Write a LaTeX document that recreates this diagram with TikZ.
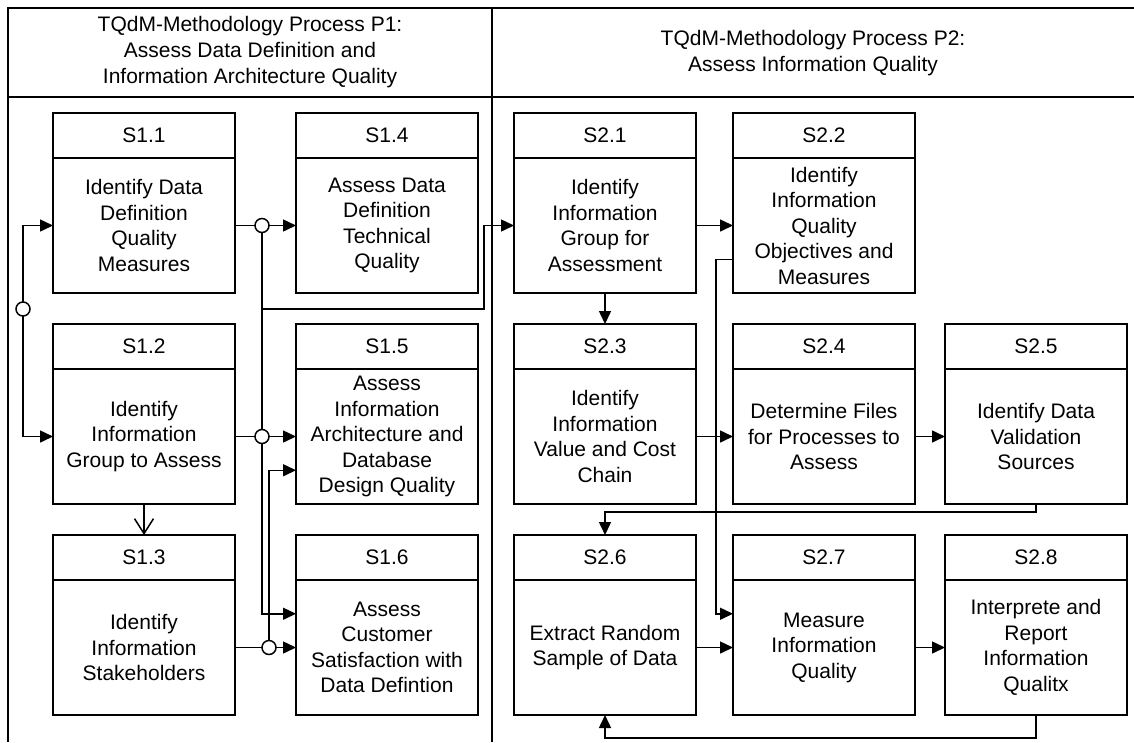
\documentclass[tikz,border=0pt]{standalone}
\usepackage{fontspec}
\setmainfont{Liberation Sans}
\usetikzlibrary{arrows.meta,calc}

\tikzset{
  frame/.style={line width=1.6pt},
  stephead/.style={draw, line width=1.5pt, rectangle, minimum width=182pt,
    minimum height=45pt, inner sep=0pt, outer sep=0pt,
    font=\fontsize{21}{25.5}\selectfont},
  stepbody/.style={draw, line width=1.5pt, rectangle, minimum width=182pt,
    minimum height=135pt, inner sep=0pt, outer sep=0pt, align=center,
    font=\fontsize{21}{25.5}\selectfont},
  title/.style={align=center, font=\fontsize{21}{26}\selectfont},
  junction/.style={draw, circle, fill=white, line width=1.5pt,
    minimum size=14pt, inner sep=0pt, outer sep=0pt},
  flow/.style={line width=1.5pt},
  arr/.style={flow, -{Triangle[length=13pt,width=12pt]}},
  openarr/.style={flow, -{Straight Barb[length=15pt,width=19pt,line width=1.5pt]}},
}

% one process step: header with its number, body with its description
\newcommand\procstep[5]{%
  \node[stephead, anchor=north west] (#1-h) at (#2,#3) {#4};
  \node[stepbody, anchor=north west] (#1-b) at (#1-h.south west) {#5};
}

\begin{document}
\begin{tikzpicture}[x=1pt, y=-1pt]
  \fill[white] (0,0) rectangle (1134,742);
  \useasboundingbox (0,0) rectangle (1134,742);

  % frame of the two process lanes
  \draw[frame] (8,742) -- (8,8) -- (1134,8);
  \draw[frame] (8,97) -- (1134,97);
  \draw[frame] (492,8) -- (492,742);

  \node[title] (p1) at (250,52.5)
    {TQdM-Methodology Process P1:\\Assess Data Definition and\\Information Architecture Quality};
  \node[title] (p2) at (813,53.5)
    {TQdM-Methodology Process P2:\\Assess Information Quality};

  % process P1
  \procstep{s11}{53}{113}{S1.1}{Identify Data\\Definition\\Quality\\Measures}
  \procstep{s12}{53}{324}{S1.2}{Identify\\Information\\Group to Assess}
  \procstep{s13}{53}{535}{S1.3}{Identify\\Information\\Stakeholders}
  \procstep{s14}{296}{113}{S1.4}{Assess Data\\Definition\\Technical\\Quality}
  \procstep{s15}{296}{324}{S1.5}{Assess\\Information\\Architecture and\\Database\\Design Quality}
  \procstep{s16}{296}{535}{S1.6}{Assess\\Customer\\Satisfaction with\\Data Defintion}

  % process P2
  \procstep{s21}{514}{113}{S2.1}{Identify\\Information\\Group for\\Assessment}
  \procstep{s22}{733}{113}{S2.2}{Identify\\Information\\Quality\\Objectives and\\Measures}
  \procstep{s23}{514}{324}{S2.3}{Identify\\Information\\Value and Cost\\Chain}
  \procstep{s24}{733}{324}{S2.4}{Determine Files\\for Processes to\\Assess}
  \procstep{s25}{945}{324}{S2.5}{Identify Data\\Validation\\Sources}
  \procstep{s26}{514}{535}{S2.6}{Extract Random\\Sample of Data}
  \procstep{s27}{733}{535}{S2.7}{Measure\\Information\\Quality}
  \procstep{s28}{945}{535}{S2.8}{Interprete and\\Report\\Information\\Qualitx}

  % secondary entry and exit points on the box sides
  \coordinate (s15-in) at ($(s15-b.north west)!0.75!(s15-b.south west)$);
  \coordinate (s16-in) at ($(s16-b.north west)!0.25!(s16-b.south west)$);
  \coordinate (s22-out) at ($(s22-b.north west)!0.75!(s22-b.south west)$);
  \coordinate (s27-in) at ($(s27-b.north west)!0.25!(s27-b.south west)$);

  % fan-out junctions
  \node[junction] (j0) at (23,309) {};
  \node[junction] (j1) at (262,225.5) {};
  \node[junction] (j2) at (262,436.5) {};
  \node[junction] (j3) at (269,647.5) {};
  \coordinate (b1) at (262,309);
  \coordinate (b2) at (484,309);

  % P1 connectors
  \draw[arr] (j0) |- (s11-b.west);
  \draw[arr] (j0) |- (s12-b.west);
  \draw[flow] (s11-b.east) -- (j1);
  \draw[arr] (j1) -- (s14-b.west);
  \draw[flow] (j1) -- (j2);
  \draw[arr] (j2) |- (s16-in);
  \draw[arr] (b1) -- (b2) |- (s21-b.west);
  \draw[flow] (s12-b.east) -- (j2);
  \draw[arr] (j2) -- (s15-b.west);
  \draw[flow] (s13-b.east) -- (j3);
  \draw[arr] (j3) -- (s16-b.west);
  \draw[arr] (j3) |- (s15-in);
  \draw[openarr] (s12-b.south) -- (s13-h.north);

  % P2 connectors
  \draw[arr] (s21-b.east) -- (s22-b.west);
  \draw[arr] (s21-b.south) -- (s23-h.north);
  \draw[arr] (s22-out) -- ++(-17,0) |- (s27-in);
  \draw[arr] (s23-b.east) -- (s24-b.west);
  \draw[arr] (s24-b.east) -- (s25-b.west);
  \draw[arr] (s25-b.south) -- ++(0,8) -| (s26-h.north);
  \draw[arr] (s26-b.east) -- (s27-b.west);
  \draw[arr] (s27-b.east) -- (s28-b.west);
  \draw[arr] (s28-b.south) -- ++(0,23) -| (s26-b.south);
\end{tikzpicture}
\end{document}
